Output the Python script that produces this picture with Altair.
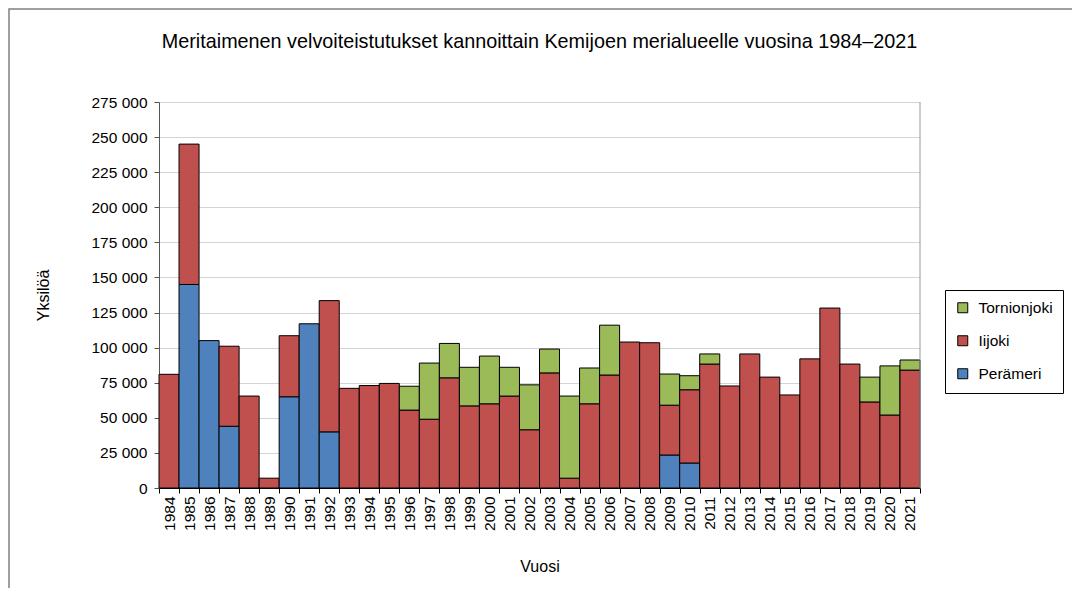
import altair as alt
import pandas as pd

years = [str(y) for y in range(1984, 2022)]
peramari = [0, 145000, 105000, 44000, 0, 0, 65000, 117000, 40000, 0,
            0, 0, 0, 0, 0, 0, 0, 0, 0, 0,
            0, 0, 0, 0, 0, 23500, 17800, 0, 0, 0,
            0, 0, 0, 0, 0, 0, 0, 0]
iijoki = [81000, 100000, 0, 57000, 65500, 7000, 43500, 0, 93500, 71000,
          73000, 74500, 55500, 49000, 78500, 58500, 60000, 65500, 41500, 82000,
          7000, 60000, 80500, 104000, 103500, 35500, 52200, 88300, 72700, 95500,
          79000, 66300, 92000, 128200, 88300, 61300, 52000, 84000]
tornio = [0, 0, 0, 0, 0, 0, 0, 0, 0, 0,
          0, 0, 17000, 40000, 24500, 27500, 34000, 20500, 32000, 17000,
          58500, 25500, 35500, 0, 0, 22200, 10000, 7200, 0, 0,
          0, 0, 0, 0, 0, 17700, 35000, 7200]
series = ["Tornionjoki", "Iijoki", "Perämeri"]
colors = ["#9BBB59", "#C0504D", "#4F81BD"]
yticks = list(range(0, 275001, 25000))
title = "Meritaimenen velvoiteistutukset kannoittain Kemijoen merialueelle vuosina 1984–2021"

rows = []
for i, y in enumerate(years):
    for name, vals, o in (("Perämeri", peramari, 0), ("Iijoki", iijoki, 1), ("Tornionjoki", tornio, 2)):
        if vals[i] > 0:
            rows.append({"Vuosi": y, "Sarja": name, "Arvo": vals[i], "ord": o})
df = pd.DataFrame(rows)
one = pd.DataFrame({"t": [title]})

FONT = "Liberation Sans"
W, H = 761, 386

bars = alt.Chart(df).mark_bar(stroke="#000000", strokeWidth=1).encode(
    x=alt.X("Vuosi:O", sort=years, scale=alt.Scale(paddingInner=0, paddingOuter=0),
            axis=alt.Axis(title="Vuosi", labelAngle=270, tickBand="extent",
                          labelFontSize=15.5, labelFont=FONT, labelColor="#000",
                          titleFont=FONT, titleFontSize=16, titleFontWeight="normal",
                          titleColor="#000", titleY=70, domainColor="#000",
                          tickColor="#000", tickSize=5, labelPadding=3)),
    y=alt.Y("Arvo:Q", stack="zero", scale=alt.Scale(domain=[0, 275000], nice=False),
            axis=alt.Axis(title="Yksilöä", values=yticks,
                          labelExpr="replace(format(datum.value, ','), ',', ' ')",
                          labelFontSize=15.5, labelFont=FONT, labelColor="#000",
                          titleFont=FONT, titleFontSize=16, titleFontWeight="normal",
                          titleColor="#000", titleX=-108, titleY=193,
                          domainColor="#555", tickColor="#555", tickSize=5,
                          gridColor="#d4d4d4", gridWidth=1.2, labelPadding=7)),
    color=alt.Color("Sarja:N", scale=alt.Scale(domain=series, range=colors),
                    legend=alt.Legend(title=None, orient="none", legendX=786, legendY=188,
                                      symbolType="square", symbolSize=100,
                                      symbolStrokeColor="#000", symbolStrokeWidth=1,
                                      labelFont=FONT, labelFontSize=15.5, labelColor="#000",
                                      rowPadding=16, padding=10, strokeColor="#000",
                                      fillColor="#ffffff", labelOffset=8)),
    order=alt.Order("ord:Q", sort="ascending"),
)

right = alt.Chart(one).mark_rule(color="#999999", strokeWidth=1).encode(
    x=alt.value(W), y=alt.value(0), y2=alt.value(H))

title_txt = alt.Chart(one).mark_text(
    font=FONT, fontSize=19.8, color="#000", align="center", baseline="alphabetic",
).encode(text="t:N", x=alt.value(W / 2), y=alt.value(-54))

frame = alt.Chart(one).mark_rect(fill=None, stroke="#808080", strokeWidth=1.5, clip=False).encode(
    x=alt.value(-150), x2=alt.value(W + 158), y=alt.value(-93), y2=alt.value(H + 140))

chart = alt.layer(frame, bars, right, title_txt).properties(
    width=W, height=H,
    autosize=alt.AutoSizeParams(type="none"),
    padding={"left": 151, "top": 94, "right": 152, "bottom": 100},
).configure_view(stroke=None).configure_axisX(grid=False)

chart.save("out.html", embed_options={"renderer": "svg", "actions": False})
